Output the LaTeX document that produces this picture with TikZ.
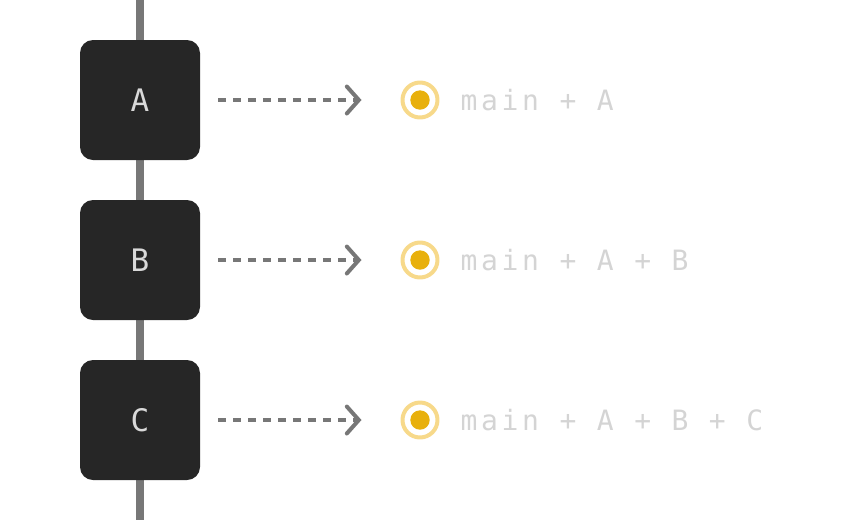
\documentclass[tikz,border=0pt]{standalone}
\usepackage{fontspec}
\usetikzlibrary{arrows.meta,positioning}
\newfontfamily\codefont[LetterSpace=13]{DejaVu Sans Mono}
\newfontfamily\boxfont{DejaVu Sans Mono}
\definecolor{spine}{HTML}{777777}
\definecolor{commit}{HTML}{262626}
\definecolor{committext}{HTML}{D9D9D9}
\definecolor{link}{HTML}{777777}
\definecolor{ring}{HTML}{F7D98A}
\definecolor{dot}{HTML}{E8B00C}
\definecolor{result}{HTML}{D4D4D4}

\begin{document}
\begin{tikzpicture}[
  x=1pt, y=-1pt,
  line cap=round, line join=round,
  spine/.style={draw=spine, line width=7.5pt, line cap=butt},
  commit/.style={rectangle, rounded corners=13pt, fill=commit, minimum size=120pt,
    inner sep=0pt, text=committext, font=\boxfont\fontsize{31}{31}\selectfont},
  link/.style={draw=link, line width=3.6pt, dash pattern=on 7.5pt off 7.5pt, line cap=butt,
    -{Straight Barb[length=12pt, width=27pt, line width=4pt, line cap=round]},
    shorten <=18pt, shorten >=39pt},
  ringnode/.style={circle, draw=ring, line width=4pt, fill=white, minimum size=35pt, inner sep=0pt},
  result/.style={text=result, inner sep=0pt, anchor=west,
    font=\codefont\fontsize{28}{28}\selectfont},
]
\useasboundingbox (0,0) rectangle (848,520);
\coordinate (top) at (140,0);
\coordinate (bottom) at (140,520);
\draw[spine] (top) -- (bottom);
% commits
\node[commit] (commitA) at (140,100) {A};
\node[commit] (commitB) at (140,260) {B};
\node[commit] (commitC) at (140,420) {C};
% results
\node[ringnode] (ringA) at (420,100) {};
\node[ringnode] (ringB) at (420,260) {};
\node[ringnode] (ringC) at (420,420) {};
\fill[dot] (ringA) circle (9.7);
\fill[dot] (ringB) circle (9.7);
\fill[dot] (ringC) circle (9.7);
\draw[link] (commitA) -- (ringA);
\draw[link] (commitB) -- (ringB);
\draw[link] (commitC) -- (ringC);
\node[result, right=21pt of ringA] (labelA) {main + A};
\node[result, right=21pt of ringB] (labelB) {main + A + B};
\node[result, right=21pt of ringC] (labelC) {main + A + B + C};
\end{tikzpicture}
\end{document}
